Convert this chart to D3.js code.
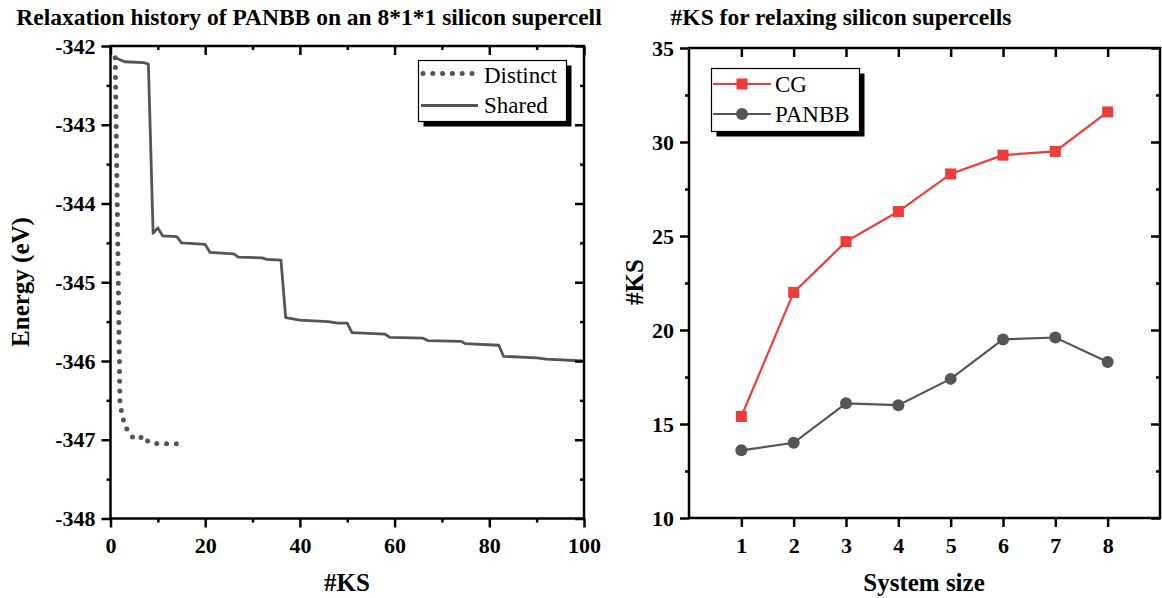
<!DOCTYPE html>
<html>
<head>
<meta charset="utf-8">
<script src="https://cdn.jsdelivr.net/npm/d3@7"></script>
<style>
body { margin: 0; background: #fff; }
svg { font-family: "Liberation Serif", "Times New Roman", serif; }
</style>
</head>
<body>
<svg width="1162" height="598"></svg>
<script>
// left panel: relaxation history
const distinctKS = [1, 2, 3, 4, 5, 6, 7, 8, 9, 10, 11, 12, 13, 14, 15]
const distinctE = [-342.15, -346.55, -346.82, -346.92, -346.99, -346.99, -346.95, -347.03, -347.04, -347.05, -347.05, -347.05, -347.05, -347.05, -347.05]

const sharedKS = [1, 3, 7, 8, 9, 10, 11, 14, 15, 20, 21, 26, 27, 32, 33, 36, 37, 40, 46, 48, 50, 51, 58, 59, 66, 67, 74, 75, 82, 83, 90, 92, 100]
const sharedE = [-342.15, -342.2, -342.21, -342.23, -344.38, -344.31, -344.41, -344.42, -344.5, -344.52, -344.62, -344.64, -344.68, -344.69, -344.71, -344.72, -345.45, -345.48, -345.5, -345.52, -345.52, -345.64, -345.66, -345.7, -345.71, -345.74, -345.75, -345.78, -345.8, -345.94, -345.96, -345.975, -346.0]

const ksTicks = [0, 20, 40, 60, 80, 100]
const ksMinor = [10, 30, 50, 70, 90]
const energyTicks = [-342, -343, -344, -345, -346, -347, -348]
const energyMinor = [-342.5, -343.5, -344.5, -345.5, -346.5, -347.5]

// right panel: #KS vs system size
const sizes = [1, 2, 3, 4, 5, 6, 7, 8]
const cgKS = [15.4, 22.0, 24.7, 26.3, 28.3, 29.3, 29.5, 31.6]
const panbbKS = [13.6, 14.0, 16.1, 16.0, 17.4, 19.5, 19.6, 18.3]
const countTicks = [10, 15, 20, 25, 30, 35]
const countMinor = [12.5, 17.5, 22.5, 27.5, 32.5]

const gray = '#555555'
const red = '#ee3b3b'
const serif = '"Liberation Serif", "Times New Roman", serif'
const svg = d3.select('svg')

function frame(x, y, major, minor, xMajor, xMinor) {
    const [x0, x1] = x.range()
    const [y1, y0] = y.range()
    const g = svg.append('g')
    const fmt = d => String(d)

    // left, outward with labels
    g.append('g').attr('class', 'lab').attr('transform', `translate(${x0},0)`)
        .call(d3.axisLeft(y).tickValues(major).tickSize(9).tickPadding(6).tickFormat(fmt))
    g.append('g').attr('transform', `translate(${x0},0)`)
        .call(d3.axisLeft(y).tickValues(minor).tickSize(4).tickFormat(''))
    // right, inward
    g.append('g').attr('transform', `translate(${x1},0)`)
        .call(d3.axisLeft(y).tickValues(major).tickSize(9).tickFormat(''))
    g.append('g').attr('transform', `translate(${x1},0)`)
        .call(d3.axisLeft(y).tickValues(minor).tickSize(4).tickFormat(''))
    // bottom, outward with labels
    g.append('g').attr('class', 'lab').attr('transform', `translate(0,${y1})`)
        .call(d3.axisBottom(x).tickValues(xMajor).tickSize(9).tickPadding(10).tickFormat(fmt))
    g.append('g').attr('transform', `translate(0,${y1})`)
        .call(d3.axisBottom(x).tickValues(xMinor).tickSize(4).tickFormat(''))
    // top, inward
    g.append('g').attr('transform', `translate(0,${y0})`)
        .call(d3.axisBottom(x).tickValues(xMajor).tickSize(9).tickFormat(''))
    g.append('g').attr('transform', `translate(0,${y0})`)
        .call(d3.axisBottom(x).tickValues(xMinor).tickSize(4).tickFormat(''))

    g.selectAll('.domain').remove()
    g.selectAll('.tick line').attr('stroke', '#000').attr('stroke-width', 2.5)
    g.selectAll('.lab')
        .attr('font-family', serif).attr('font-size', 22).attr('font-weight', 'bold')
    g.selectAll('.lab text').attr('fill', '#000').attr('font-weight', 'bold')

    g.append('rect')
        .attr('x', x0).attr('y', y0)
        .attr('width', x1 - x0).attr('height', y1 - y0)
        .attr('fill', 'none').attr('stroke', '#000').attr('stroke-width', 2.5)
    return g
}

function label(text, x, y, size, weight, rotate) {
    const t = svg.append('text')
        .attr('text-anchor', 'middle')
        .attr('font-size', size).attr('font-weight', weight)
        .text(text)
    if (rotate) t.attr('transform', `translate(${x},${y}) rotate(-90)`)
    else t.attr('x', x).attr('y', y)
    return t
}

function legendBox(x, y, w, h, off) {
    svg.append('rect').attr('x', x + off).attr('y', y + off).attr('width', w).attr('height', h).attr('fill', '#000')
    svg.append('rect').attr('x', x).attr('y', y).attr('width', w).attr('height', h)
        .attr('fill', '#fff').attr('stroke', '#000').attr('stroke-width', 1.2)
}

// ---------- left panel ----------
const xL = d3.scaleLinear().domain([0, 100]).range([110.5, 584])
const yL = d3.scaleLinear().domain([-348, -342]).range([518.5, 46])

const lineL = d3.line().x(d => xL(d[0])).y(d => yL(d[1]))

svg.append('path')
    .datum(d3.zip(sharedKS, sharedE))
    .attr('d', lineL)
    .attr('fill', 'none').attr('stroke', gray).attr('stroke-width', 2.8)
    .attr('stroke-linejoin', 'round')

svg.append('path')
    .datum(d3.zip(distinctKS, distinctE))
    .attr('d', lineL)
    .attr('fill', 'none').attr('stroke', gray).attr('stroke-width', 5)
    .attr('stroke-linecap', 'round').attr('stroke-dasharray', '0,9.8')

frame(xL, yL, energyTicks, energyMinor, ksTicks, ksMinor)

legendBox(418.5, 60.5, 148, 61, 5)
svg.append('line').attr('x1', 423).attr('x2', 473).attr('y1', 73.5).attr('y2', 73.5)
    .attr('stroke', gray).attr('stroke-width', 5).attr('stroke-linecap', 'round').attr('stroke-dasharray', '0,9.8')
svg.append('line').attr('x1', 421).attr('x2', 478).attr('y1', 105.5).attr('y2', 105.5)
    .attr('stroke', gray).attr('stroke-width', 2.8)
svg.append('text').attr('x', 484).attr('y', 83).attr('font-size', 23).text('Distinct')
svg.append('text').attr('x', 484).attr('y', 113).attr('font-size', 23).text('Shared')

label('Relaxation history of PANBB on an 8*1*1 silicon supercell', 309, 25, 23.5, 'bold')
label('Energy (eV)', 29, 282, 25, 'bold', true)
label('#KS', 347, 591, 25, 'bold')

// ---------- right panel ----------
const xR = d3.scaleLinear().domain([0, 9]).range([689, 1160])
const yR = d3.scaleLinear().domain([10, 35]).range([518, 48])

const lineR = d3.line().x(d => xR(d[0])).y(d => yR(d[1]))

svg.append('path')
    .datum(d3.zip(sizes, cgKS))
    .attr('d', lineR)
    .attr('fill', 'none').attr('stroke', red).attr('stroke-width', 2.2)
svg.selectAll('rect.cg')
    .data(d3.zip(sizes, cgKS))
    .enter().append('rect').attr('class', 'cg')
    .attr('x', d => xR(d[0]) - 5.5).attr('y', d => yR(d[1]) - 5.5)
    .attr('width', 11).attr('height', 11).attr('fill', red)

svg.append('path')
    .datum(d3.zip(sizes, panbbKS))
    .attr('d', lineR)
    .attr('fill', 'none').attr('stroke', gray).attr('stroke-width', 2.2)
svg.selectAll('circle.pb')
    .data(d3.zip(sizes, panbbKS))
    .enter().append('circle').attr('class', 'pb')
    .attr('cx', d => xR(d[0])).attr('cy', d => yR(d[1]))
    .attr('r', 6).attr('fill', gray)

frame(xR, yR, countTicks, countMinor, sizes, [])

legendBox(711.5, 68.5, 148, 63, 5)
svg.append('line').attr('x1', 713).attr('x2', 771).attr('y1', 84).attr('y2', 84)
    .attr('stroke', red).attr('stroke-width', 2.2)
svg.append('rect').attr('x', 736.5).attr('y', 78.5).attr('width', 11).attr('height', 11).attr('fill', red)
svg.append('line').attr('x1', 713).attr('x2', 771).attr('y1', 114).attr('y2', 114)
    .attr('stroke', gray).attr('stroke-width', 2.2)
svg.append('circle').attr('cx', 742).attr('cy', 114).attr('r', 6).attr('fill', gray)
svg.append('text').attr('x', 775).attr('y', 92).attr('font-size', 23).text('CG')
svg.append('text').attr('x', 775).attr('y', 122).attr('font-size', 23).text('PANBB')

label('#KS for relaxing silicon supercells', 841, 25, 23.5, 'bold')
label('#KS', 643, 282, 25, 'bold', true)
label('System size', 924, 591, 25, 'bold')
</script>
</body>
</html>
